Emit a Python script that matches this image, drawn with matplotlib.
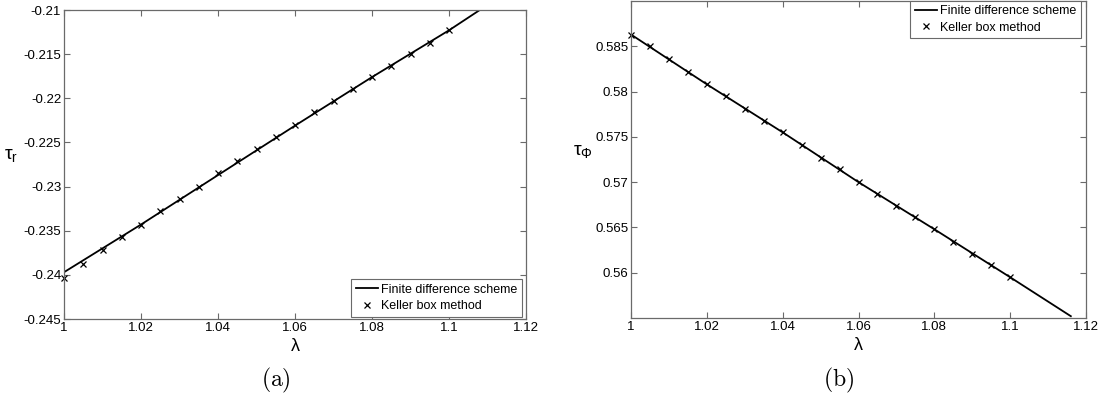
import numpy as np
import matplotlib.pyplot as plt

plt.rcParams.update({'font.size': 9, 'font.family': ['Liberation Sans', 'DejaVu Sans'],
                     'mathtext.fontset': 'custom', 'mathtext.rm': 'Liberation Sans',
                     'mathtext.it': 'Liberation Sans', 'mathtext.bf': 'Liberation Sans'})

# keller box points
lam_pts = [1.000, 1.005, 1.010, 1.015, 1.020, 1.025, 1.030, 1.035, 1.040, 1.045, 1.050,
           1.055, 1.060, 1.065, 1.070, 1.075, 1.080, 1.085, 1.090, 1.095, 1.100]
tau_r_kb = [-0.2403, -0.2388, -0.2372, -0.2357, -0.2343, -0.2328, -0.2314, -0.2300,
            -0.2285, -0.2271, -0.2257, -0.2244, -0.2230, -0.2216, -0.2203, -0.2190,
            -0.2176, -0.2163, -0.2150, -0.2137, -0.2123]
tau_phi_kb = [0.5863, 0.5850, 0.5836, 0.5822, 0.5808, 0.5795, 0.5781, 0.5768, 0.5755,
              0.5741, 0.5727, 0.5714, 0.5700, 0.5687, 0.5674, 0.5661, 0.5648, 0.5634,
              0.5621, 0.5608, 0.5595]

# finite difference curves
lam_fd_r = [1.00, 1.02, 1.04, 1.06, 1.08, 1.10, 1.108]
tau_r_fd = [-0.2397, -0.2343, -0.2287, -0.2231, -0.2176, -0.2123, -0.2100]
lam_fd_phi = [1.00, 1.02, 1.04, 1.06, 1.08, 1.10, 1.116]
tau_phi_fd = [0.5863, 0.5808, 0.5755, 0.5700, 0.5648, 0.5595, 0.5552]

xticks = [1, 1.02, 1.04, 1.06, 1.08, 1.1, 1.12]
xticklabels = ['1', '1.02', '1.04', '1.06', '1.08', '1.1', '1.12']
yticks_r = [-0.245, -0.24, -0.235, -0.23, -0.225, -0.22, -0.215, -0.21]
yticklabels_r = ['-0.245', '-0.24', '-0.235', '-0.23', '-0.225', '-0.22', '-0.215', '-0.21']
yticks_phi = [0.56, 0.565, 0.57, 0.575, 0.58, 0.585]
yticklabels_phi = ['0.56', '0.565', '0.57', '0.575', '0.58', '0.585']

W, H = 1105, 403
fig = plt.figure(figsize=(W / 100, H / 100), dpi=100)
ax1 = fig.add_axes([64 / W, 1 - 319 / H, (526 - 64) / W, (319 - 10) / H])
ax2 = fig.add_axes([631 / W, 1 - 318 / H, (1086 - 631) / W, (318 - 1) / H])

spine_col = '#6a6a6a'


def style(ax):
    for s in ax.spines.values():
        s.set_color(spine_col)
        s.set_linewidth(0.9)
    ax.tick_params(direction='in', top=True, right=True, length=4, width=0.8,
                   color=spine_col, labelsize=9.5, pad=2)
    ax.set_xlim(1, 1.12)
    ax.set_xticks(xticks)
    ax.set_xticklabels(xticklabels)
    ax.set_xlabel(r'$\lambda$', fontsize=13, labelpad=3)


legkw = dict(fontsize=9, fancybox=False, framealpha=1, edgecolor=spine_col,
             borderaxespad=0, handlelength=1.8, handletextpad=0.25, borderpad=0.35,
             labelspacing=0.35)

ax1.plot(lam_fd_r, tau_r_fd, color='black', lw=1.3, label='Finite difference scheme')
ax1.plot(lam_pts, tau_r_kb, 'x', color='black', ms=5, mew=0.9, label='Keller box method',
         clip_on=False)
style(ax1)
ax1.set_ylim(-0.245, -0.21)
ax1.set_yticks(yticks_r)
ax1.set_yticklabels(yticklabels_r)
ax1.set_ylabel(r'$\tau_r$', fontsize=14, rotation=0, labelpad=9)
leg = ax1.legend(loc='lower right', bbox_to_anchor=(0.991, 0.008), **legkw)
leg.get_frame().set_linewidth(0.8)

ax2.plot(lam_fd_phi, tau_phi_fd, color='black', lw=1.3, label='Finite difference scheme')
ax2.plot(lam_pts, tau_phi_kb, 'x', color='black', ms=5, mew=0.9, label='Keller box method',
         clip_on=False)
style(ax2)
ax2.set_ylim(0.555, 0.59)
ax2.set_yticks(yticks_phi)
ax2.set_yticklabels(yticklabels_phi)
ax2.set_ylabel(r'$\tau_\Phi$', fontsize=14, rotation=0, labelpad=9)
leg = ax2.legend(loc='upper right', bbox_to_anchor=(0.989, 1.0), **legkw)
leg.get_frame().set_linewidth(0.8)

fig.text(276 / W, 1 - 380 / H, r'$\mathrm{(a)}$', fontsize=17, ha='center', va='center',
         math_fontfamily='cm')
fig.text(839 / W, 1 - 380 / H, r'$\mathrm{(b)}$', fontsize=17, ha='center', va='center',
         math_fontfamily='cm')

fig.savefig('out.png', dpi=100)
